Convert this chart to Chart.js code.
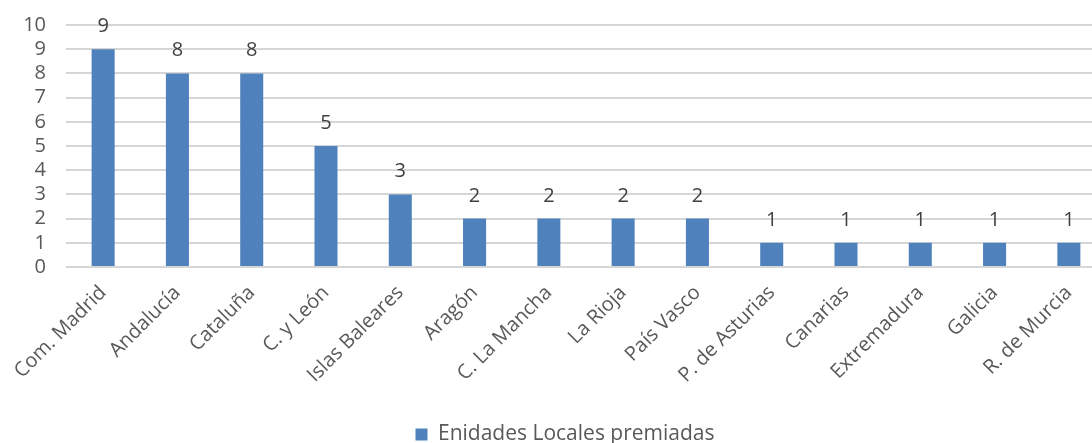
<!DOCTYPE html>
<html>
<head>
<meta charset="utf-8">
<script src="https://cdn.jsdelivr.net/npm/chart.js@4.4.1/dist/chart.umd.min.js"></script>
<style>
  html, body { margin: 0; padding: 0; background: #fff; overflow: hidden; }
  #wrap { width: 1130px; height: 462px; position: relative; margin-top: -7px; }
</style>
</head>
<body>
<div id="wrap"><canvas id="grafico"></canvas></div>
<script>
const regiones = ['Com. Madrid', 'Andalucía', 'Cataluña', 'C. y León', 'Islas Baleares', 'Aragón',
  'C. La Mancha', 'La Rioja', 'País Vasco', 'P. de Asturias', 'Canarias', 'Extremadura', 'Galicia', 'R. de Murcia'];
const premiadas = [9, 8, 8, 5, 3, 2, 2, 2, 2, 1, 1, 1, 1, 1];
const serieNombre = 'Enidades Locales premiadas';

const fuente = "'Open Sans', 'Liberation Sans', sans-serif";
const gris = '#595959';

// etiquetas de valor encima de cada barra
const etiquetasValor = {
  id: 'etiquetasValor',
  afterLayout(chart) {
    // la leyenda va centrada en todo el ancho, no solo hasta el padding derecho
    chart.legend.left += 12;
    chart.legend.right += 12;
  },
  afterDatasetsDraw(chart) {
    const ctx = chart.ctx;
    ctx.save();
    ctx.fillStyle = '#404040';
    ctx.font = '20px ' + fuente;
    ctx.textAlign = 'center';
    ctx.textBaseline = 'alphabetic';
    chart.getDatasetMeta(0).data.forEach((bar, i) => {
      ctx.fillText(chart.data.datasets[0].data[i], bar.x, bar.y - 17);
    });
    ctx.restore();
  }
};

const ctx = document.getElementById('grafico').getContext('2d');
new Chart(ctx, {
  type: 'bar',
  data: {
    labels: regiones,
    datasets: [{
      label: serieNombre,
      data: premiadas,
      backgroundColor: '#4F81BD',
      borderWidth: 0,
      categoryPercentage: 1,
      barPercentage: 0.31
    }]
  },
  options: {
    responsive: true,
    maintainAspectRatio: false,
    animation: false,
    layout: { padding: { top: 10, right: 24, left: 0, bottom: 0 } },
    plugins: {
      tooltip: { enabled: false },
      legend: {
        position: 'bottom',
        labels: {
          color: gris,
          font: { family: fuente, size: 21 },
          boxWidth: 12,
          boxHeight: 12,
          padding: 10
        }
      }
    },
    scales: {
      x: {
        grid: { display: false },
        border: { display: false },
        ticks: {
          color: gris,
          font: { family: fuente, size: 20 },
          maxRotation: 45,
          minRotation: 45,
          autoSkip: false,
          padding: 6
        },
        afterFit(axis) { axis.height = 147; }
      },
      y: {
        min: 0,
        max: 10,
        grid: { color: '#d6d6d6', lineWidth: 2, drawTicks: false },
        border: { display: false },
        ticks: {
          stepSize: 1,
          autoSkip: false,
          color: gris,
          font: { family: fuente, size: 20 },
          padding: 20
        },
        afterFit(axis) { axis.width = 66; }
      }
    }
  },
  plugins: [etiquetasValor]
});
</script>
</body>
</html>
